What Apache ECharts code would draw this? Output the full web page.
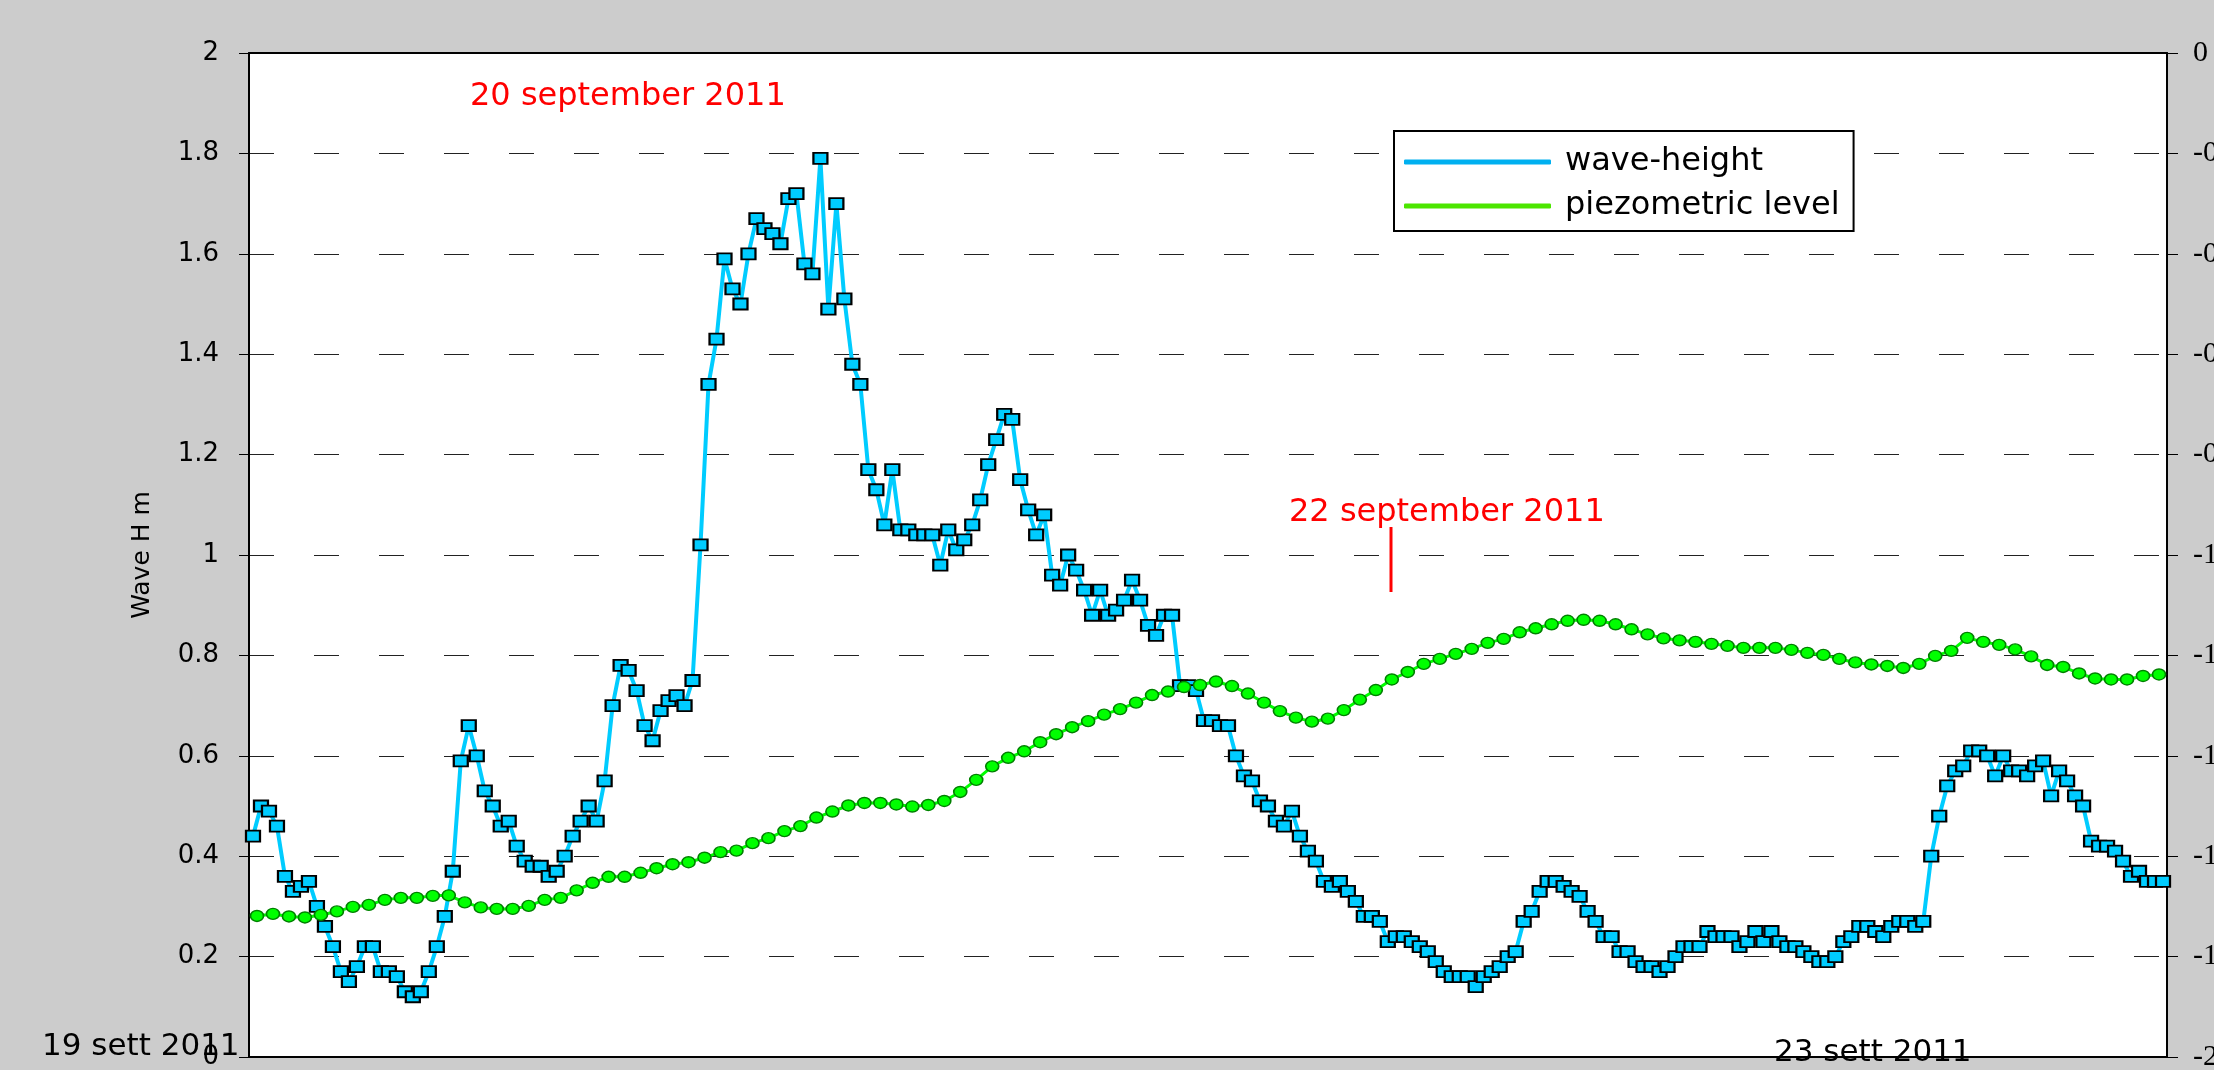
<!DOCTYPE html>
<html>
<head>
<meta charset="utf-8">
<title>Wave height and piezometric level</title>
<script src="https://cdn.jsdelivr.net/npm/echarts@6/dist/echarts.min.js"></script>
<style>
  html, body { margin: 0; padding: 0; background: #cccccc; }
  #chart { width: 2214px; height: 1070px; }
</style>
</head>
<body>
<div id="chart"></div>
<script>
// wave height (m), one value every half hour from 19 sett 2011 00:00
var waveHeight = [
  0.44, 0.50, 0.49, 0.46, 0.36, 0.33, 0.34, 0.35, 0.30, 0.26,
  0.22, 0.17, 0.15, 0.18, 0.22, 0.22, 0.17, 0.17, 0.16, 0.13,
  0.12, 0.13, 0.17, 0.22, 0.28, 0.37, 0.59, 0.66, 0.60, 0.53,
  0.50, 0.46, 0.47, 0.42, 0.39, 0.38, 0.38, 0.36, 0.37, 0.40,
  0.44, 0.47, 0.50, 0.47, 0.55, 0.70, 0.78, 0.77, 0.73, 0.66,
  0.63, 0.69, 0.71, 0.72, 0.70, 0.75, 1.02, 1.34, 1.43, 1.59,
  1.53, 1.50, 1.60, 1.67, 1.65, 1.64, 1.62, 1.71, 1.72, 1.58,
  1.56, 1.79, 1.49, 1.70, 1.51, 1.38, 1.34, 1.17, 1.13, 1.06,
  1.17, 1.05, 1.05, 1.04, 1.04, 1.04, 0.98, 1.05, 1.01, 1.03,
  1.06, 1.11, 1.18, 1.23, 1.28, 1.27, 1.15, 1.09, 1.04, 1.08,
  0.96, 0.94, 1.00, 0.97, 0.93, 0.88, 0.93, 0.88, 0.89, 0.91,
  0.95, 0.91, 0.86, 0.84, 0.88, 0.88, 0.74, 0.74, 0.73, 0.67,
  0.67, 0.66, 0.66, 0.60, 0.56, 0.55, 0.51, 0.50, 0.47, 0.46,
  0.49, 0.44, 0.41, 0.39, 0.35, 0.34, 0.35, 0.33, 0.31, 0.28,
  0.28, 0.27, 0.23, 0.24, 0.24, 0.23, 0.22, 0.21, 0.19, 0.17,
  0.16, 0.16, 0.16, 0.14, 0.16, 0.17, 0.18, 0.20, 0.21, 0.27,
  0.29, 0.33, 0.35, 0.35, 0.34, 0.33, 0.32, 0.29, 0.27, 0.24,
  0.24, 0.21, 0.21, 0.19, 0.18, 0.18, 0.17, 0.18, 0.20, 0.22,
  0.22, 0.22, 0.25, 0.24, 0.24, 0.24, 0.22, 0.23, 0.25, 0.23,
  0.25, 0.23, 0.22, 0.22, 0.21, 0.20, 0.19, 0.19, 0.20, 0.23,
  0.24, 0.26, 0.26, 0.25, 0.24, 0.26, 0.27, 0.27, 0.26, 0.27,
  0.40, 0.48, 0.54, 0.57, 0.58, 0.61, 0.61, 0.60, 0.56, 0.60,
  0.57, 0.57, 0.56, 0.58, 0.59, 0.52, 0.57, 0.55, 0.52, 0.50,
  0.43, 0.42, 0.42, 0.41, 0.39, 0.36, 0.37, 0.35, 0.35, 0.35
];

// piezometric level (m, right axis), one value every hour
var piezoLevel = [
  -1.719, -1.715, -1.720, -1.722, -1.717, -1.710, -1.701, -1.697, -1.687, -1.683,
  -1.683, -1.679, -1.678, -1.692, -1.702, -1.705, -1.705, -1.699, -1.687, -1.683,
  -1.668, -1.653, -1.641, -1.641, -1.633, -1.624, -1.616, -1.612, -1.603, -1.592,
  -1.589, -1.574, -1.564, -1.550, -1.540, -1.523, -1.511, -1.499, -1.494, -1.494,
  -1.497, -1.501, -1.498, -1.490, -1.472, -1.448, -1.421, -1.404, -1.391, -1.373,
  -1.357, -1.343, -1.331, -1.318, -1.307, -1.294, -1.279, -1.272, -1.263, -1.259,
  -1.252, -1.261, -1.276, -1.294, -1.311, -1.324, -1.332, -1.326, -1.309, -1.288,
  -1.269, -1.248, -1.233, -1.217, -1.207, -1.197, -1.187, -1.175, -1.167, -1.154,
  -1.146, -1.138, -1.131, -1.129, -1.131, -1.138, -1.148, -1.158, -1.166, -1.170,
  -1.173, -1.177, -1.181, -1.185, -1.185, -1.185, -1.189, -1.195, -1.199, -1.207,
  -1.214, -1.218, -1.221, -1.225, -1.217, -1.201, -1.191, -1.165, -1.173, -1.179,
  -1.188, -1.202, -1.219, -1.223, -1.236, -1.246, -1.248, -1.248, -1.241, -1.238
];

// time categories: half hours for the waves, hours for the piezometer
var days = ['19/09', '20/09', '21/09', '22/09', '23/09'];
var halfHours = [];
var hours = [];
for (var n = 0; n < waveHeight.length; n++) {
  var h = Math.floor(n / 2);
  halfHours.push(days[Math.floor(h / 24)] + ' ' + (h % 24) + (n % 2 ? ':30' : ':00'));
}
for (var k = 0; k < piezoLevel.length; k++) {
  hours.push(days[Math.floor(k / 24)] + ' ' + (k % 24) + ':00');
}

var chart = echarts.init(document.getElementById('chart'));

chart.setOption({
  backgroundColor: '#cccccc',
  animation: false,
  grid: {
    left: 249, right: 47, top: 53, bottom: 13,
    outerBoundsMode: 'none',
    show: true, backgroundColor: '#ffffff', borderWidth: 0
  },
  legend: {
    left: 1394, top: 131,
    orient: 'vertical',
    backgroundColor: '#ffffff',
    borderColor: '#000', borderWidth: 2, borderRadius: 0,
    padding: [15, 14, 9, 10],
    itemWidth: 147, itemHeight: 5, itemGap: 12,
    textStyle: { fontFamily: 'DejaVu Sans', fontSize: 32, color: '#000', padding: [0, 0, 0, 9] },
    data: [
      { name: 'wave-height', icon: 'roundRect', itemStyle: { color: '#00b0f0', borderWidth: 0 } },
      { name: 'piezometric level', icon: 'roundRect', itemStyle: { color: '#4ce600', borderWidth: 0 } }
    ]
  },
  xAxis: [
    {
      type: 'category', data: halfHours, position: 'bottom',
      axisLine: { lineStyle: { color: '#000', width: 2 } },
      axisTick: { show: false }, axisLabel: { show: false }, splitLine: { show: false }
    },
    {
      type: 'category', data: hours, position: 'top',
      axisLine: { lineStyle: { color: '#000', width: 2 } },
      axisTick: { show: false }, axisLabel: { show: false }, splitLine: { show: false }
    }
  ],
  yAxis: [
    {
      type: 'value', min: 0, max: 2, interval: 0.2, position: 'left',
      name: 'Wave H m', nameLocation: 'middle', nameGap: 94, nameRotate: 90,
      nameTextStyle: { fontFamily: 'DejaVu Sans', fontSize: 25, color: '#000' },
      axisLine: { show: true, lineStyle: { color: '#000', width: 2 } },
      axisTick: { show: true, length: 10, lineStyle: { color: '#000', width: 1 } },
      axisLabel: { margin: 30, fontFamily: 'DejaVu Sans', fontSize: 26, color: '#000' },
      splitLine: { show: true, lineStyle: { color: '#222', width: 1, type: [25, 40] } }
    },
    {
      type: 'value', min: -2, max: 0, interval: 0.2, position: 'right',
      axisLine: { show: true, lineStyle: { color: '#000', width: 2 } },
      axisTick: { show: true, length: 11, lineStyle: { color: '#000', width: 1 } },
      axisLabel: { margin: 26, fontFamily: 'Liberation Serif', fontSize: 30, color: '#000' },
      splitLine: { show: false }
    }
  ],
  series: [
    {
      name: 'wave-height', type: 'line',
      xAxisIndex: 0, yAxisIndex: 0,
      data: waveHeight,
      symbol: 'rect', symbolSize: [14, 11], showAllSymbol: true,
      lineStyle: { color: '#00ccff', width: 4 },
      itemStyle: { color: '#00ccff', borderColor: '#000', borderWidth: 2 }
    },
    {
      name: 'piezometric level', type: 'line',
      xAxisIndex: 1, yAxisIndex: 1,
      data: piezoLevel,
      symbol: 'circle', symbolSize: [13, 11], showAllSymbol: true,
      lineStyle: { color: '#00ff00', width: 3 },
      itemStyle: { color: '#00ff00', borderColor: '#008000', borderWidth: 1.5 }
    }
  ],
  graphic: [
    { type: 'text', left: 470, top: 81,
      style: { text: '20 september 2011', fill: '#ff0000', font: '32px "DejaVu Sans"' } },
    { type: 'text', left: 1289, top: 497,
      style: { text: '22 september 2011', fill: '#ff0000', font: '32px "DejaVu Sans"' } },
    { type: 'line', shape: { x1: 1391, y1: 527, x2: 1391, y2: 592 },
      style: { stroke: '#ff0000', lineWidth: 3 } },
    { type: 'text', left: 42, top: 1031,
      style: { text: '19 sett 2011', fill: '#000', font: '31px "DejaVu Sans"' } },
    { type: 'text', left: 1774, top: 1037,
      style: { text: '23 sett 2011', fill: '#000', font: '31px "DejaVu Sans"' } }
  ]
});
</script>
</body>
</html>
